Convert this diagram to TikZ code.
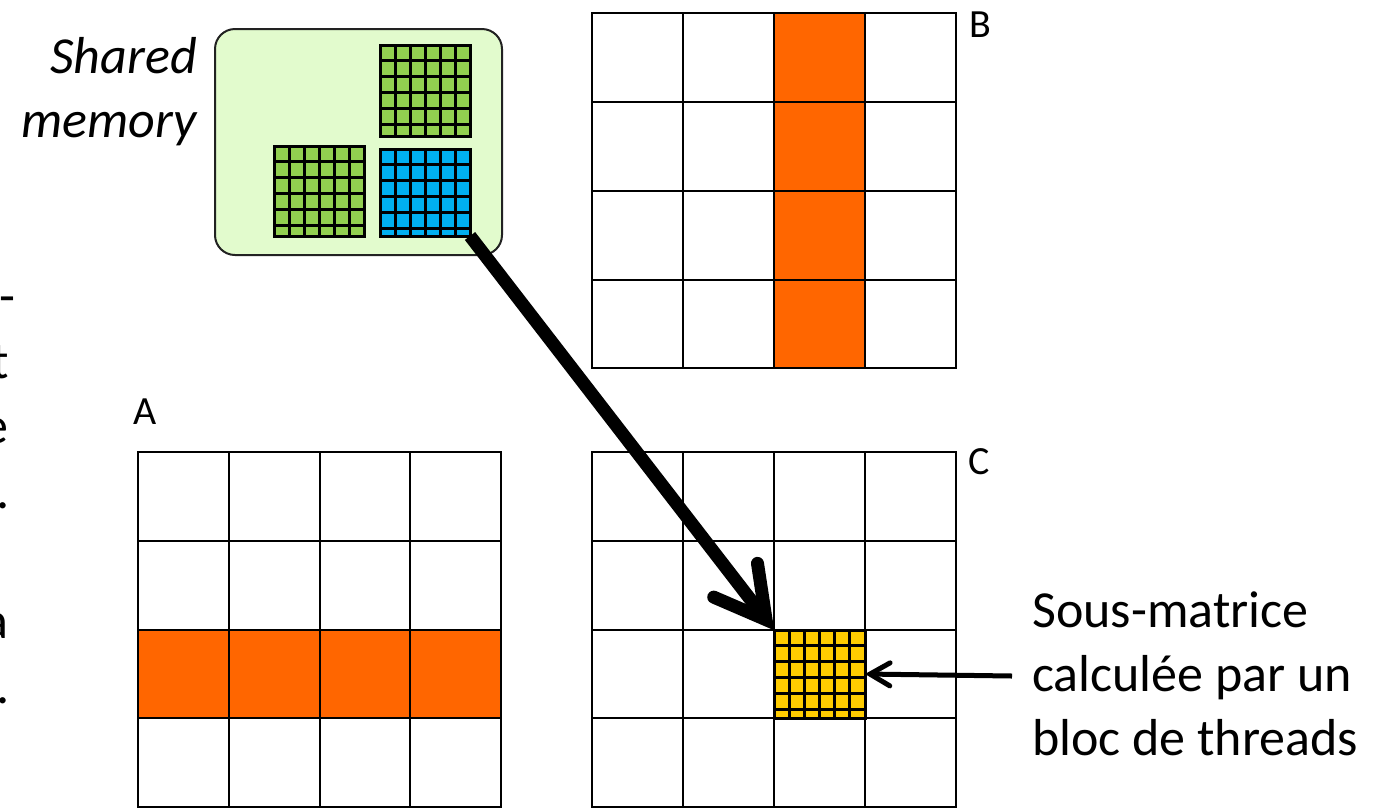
\documentclass[tikz,border=0pt]{standalone}
\usepackage{fontspec}
\setmainfont{Carlito}
\usetikzlibrary{calc}
\definecolor{morange}{HTML}{FF6600}
\definecolor{myellow}{HTML}{FFCC00}
\definecolor{mgreen}{HTML}{92D050}
\definecolor{mblue}{HTML}{00B0F0}
\definecolor{mlight}{HTML}{E2FBCD}
\definecolor{mborder}{HTML}{222222}
\tikzset{
  matbox/.style={draw=black, fill=white, line width=2.5pt, inner sep=0pt, outer sep=0pt, anchor=north west},
  matline/.style={line width=2.5pt},
  hilite/.style={fill=morange, draw=black, line width=2.5pt},
  sgrid/.style={draw=black, line width=3pt, inner sep=0pt, outer sep=0pt, anchor=north west, minimum width=90pt},
  sgline/.style={line width=3pt},
  bigshaft/.style={line width=13pt, line cap=butt},
  bigbarb/.style={line width=13pt, line cap=round, line join=miter, miter limit=10},
  smallshaft/.style={line width=5pt, line cap=butt},
  smallbarb/.style={line width=5pt, line cap=round, line join=miter, miter limit=10},
  lab/.style={font=\fontsize{40}{48}\selectfont, inner sep=0pt, anchor=base west},
  frag/.style={font=\fontsize{52}{64}\selectfont, inner sep=0pt, anchor=base east},
}
\newcommand{\smallgridcells}[3]{% name, width, height
  \foreach \k in {1,...,5} {
    \draw[sgline] ($(#1.north west)+(\k*#2/6,0)$) -- ++(0,#3);
    \draw[sgline] ($(#1.north west)+(0,\k*15.8)$) -- ++(#2,0);
  }
}
\begin{document}
\begin{tikzpicture}[x=1pt,y=-1pt]
\useasboundingbox (0,0) rectangle (1381,807);
\clip (0,0) rectangle (1381,807);

% ---------- matrix B ----------
\node[matbox, minimum width=364pt, minimum height=355pt] (B) at (592,13) {};
\draw[hilite] ($(B.north west)+(182,0)$) rectangle ($(B.north west)+(273,355)$);
\foreach \c/\r in {91/89,182/178,273/267} {
  \draw[matline] ($(B.north west)+(\c,0)$) -- ++(0,355);
  \draw[matline] ($(B.north west)+(0,\r)$) -- ++(364,0);
}
\node[lab] (labB) at (969,37) {B};

% ---------- matrix A ----------
\node[matbox, minimum width=363pt, minimum height=355pt] (A) at (138,452) {};
\draw[hilite] ($(A.north west)+(0,178)$) rectangle ($(A.north west)+(363,266)$);
\foreach \c/\r in {91/89,182/178,272/266} {
  \draw[matline] ($(A.north west)+(\c,0)$) -- ++(0,355);
  \draw[matline] ($(A.north west)+(0,\r)$) -- ++(363,0);
}
\node[lab] (labA) at (133,424) {A};

% ---------- matrix C ----------
\node[matbox, minimum width=364pt, minimum height=355pt] (C) at (592,452) {};
\foreach \c/\r in {91/89,182/178,273/266} {
  \draw[matline] ($(C.north west)+(\c,0)$) -- ++(0,355);
  \draw[matline] ($(C.north west)+(0,\r)$) -- ++(364,0);
}
\node[lab] (labC) at (968,474) {C};

% yellow sub-matrix
\node[sgrid, fill=myellow, minimum width=91pt, minimum height=88pt] (yel) at ($(C.north west)+(182,178)$) {};
\smallgridcells{yel}{91}{88}

% ---------- shared memory ----------
\node[draw=mborder, fill=mlight, line width=2pt, rounded corners=20pt,
      minimum width=287pt, minimum height=226pt, inner sep=0pt, outer sep=0pt,
      anchor=north west] (smem) at (215,29) {};
\node[sgrid, fill=mgreen, minimum height=91pt] (gA) at (380,45) {};
\smallgridcells{gA}{90}{91}
\node[sgrid, fill=mgreen, minimum height=90pt] (gB) at (274,146) {};
\smallgridcells{gB}{90}{90}
\node[sgrid, fill=mblue, minimum height=87pt] (blue) at (380,149) {};
\smallgridcells{blue}{90}{87}

\node[font=\fontsize{52}{64}\selectfont\itshape, align=right, inner sep=0pt, anchor=north east]
  (smlabel) at (197,37) {Shared\\memory};

% ---------- big arrow ----------
\coordinate (apex) at ($(yel.north west)!13pt!(blue.south east)$);
\draw[bigshaft] (blue.south east) -- (apex);
\draw[bigbarb] ($(apex)!57pt!29:(blue.south east)$) -- (apex) -- ($(apex)!57pt!-29:(blue.south east)$);

% ---------- label and small arrow ----------
\node[font=\fontsize{52}{64}\selectfont, align=left, inner sep=0pt, anchor=north west]
  (sub) at (1032,592) {Sous-matrice\\calcul\'ee par un\\bloc de threads};
\coordinate (ls) at (1012,676);
\coordinate (apexs) at ($(yel.east)!5pt!(ls)$);
\draw[smallshaft] (ls) -- (apexs);
\draw[smallbarb] ($(apexs)!23pt!30:(ls)$) -- (apexs) -- ($(apexs)!23pt!-30:(ls)$);

% ---------- clipped text fragments at the left edge ----------
\node[frag, anchor=base west] (f1) at (-1,313) {-};
\node[frag] (f2) at (9,378) {t};
\node[frag] (f3) at (9,443) {e};
\node[frag] (f4) at (10,508) {.};
\node[frag] (f5) at (9,638) {a};
\node[frag] (f6) at (10,703) {.};
\end{tikzpicture}
\end{document}
